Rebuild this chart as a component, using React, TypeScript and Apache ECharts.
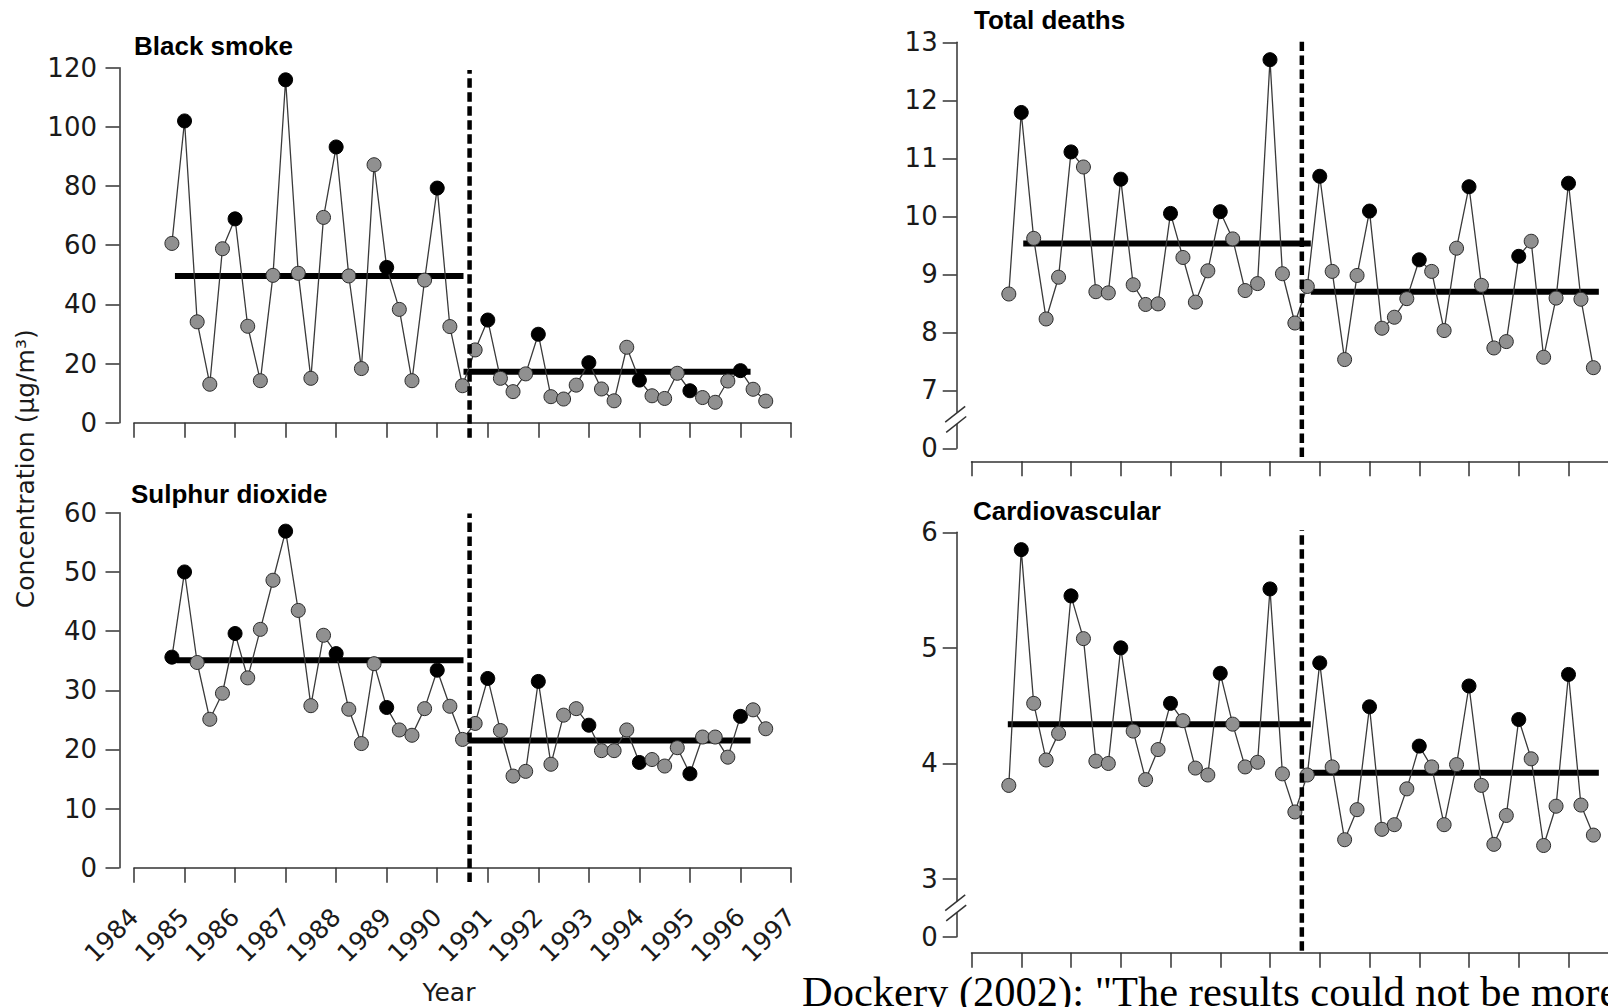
import React, { useEffect, useRef } from "react";
import * as echarts from "echarts";

// ---- Data -------------------------------------------------------------
const quarters = [
  "Autumn 1984",
  "Winter 1985", "Spring 1985", "Summer 1985", "Autumn 1985",
  "Winter 1986", "Spring 1986", "Summer 1986", "Autumn 1986",
  "Winter 1987", "Spring 1987", "Summer 1987", "Autumn 1987",
  "Winter 1988", "Spring 1988", "Summer 1988", "Autumn 1988",
  "Winter 1989", "Spring 1989", "Summer 1989", "Autumn 1989",
  "Winter 1990", "Spring 1990", "Summer 1990", "Autumn 1990",
  "Winter 1991", "Spring 1991", "Summer 1991", "Autumn 1991",
  "Winter 1992", "Spring 1992", "Summer 1992", "Autumn 1992",
  "Winter 1993", "Spring 1993", "Summer 1993", "Autumn 1993",
  "Winter 1994", "Spring 1994", "Summer 1994", "Autumn 1994",
  "Winter 1995", "Spring 1995", "Summer 1995", "Autumn 1995",
  "Winter 1996", "Spring 1996", "Summer 1996",
];
const seasonOffset: Record<string, number> = { Winter: 0, Spring: 0.25, Summer: 0.5, Autumn: 0.75 };

const yearRange = [1984, 1997];
const banDate = 1990.64;

const blackSmoke = [60.6, 102, 34.1, 13, 58.8, 68.9, 32.6, 14.2, 49.8, 115.9, 50.5, 15, 69.4, 93.2, 49.6, 18.3,
  87.2, 52.5, 38.3, 14.2, 48.2, 79.3, 32.5, 12.5, 24.6, 34.7, 15, 10.5, 16.5, 29.9, 8.8, 8, 12.7, 20.3, 11.4, 7.4,
  25.5, 14.4, 9.1, 8.2, 16.7, 10.8, 8.5, 6.9, 14.1, 17.6, 11.3, 7.3];
const sulphurDioxide = [35.6, 50.0, 34.7, 25.1, 29.5, 39.6, 32.1, 40.3, 48.6, 56.9, 43.5, 27.4, 39.3, 36.2, 26.8,
  21.0, 34.5, 27.1, 23.3, 22.4, 26.9, 33.4, 27.3, 21.7, 24.4, 32.0, 23.2, 15.5, 16.3, 31.5, 17.5, 25.8, 26.9, 24.1,
  19.8, 19.8, 23.3, 17.8, 18.3, 17.2, 20.3, 15.9, 22.1, 22.1, 18.7, 25.6, 26.7, 23.5];
const totalDeaths = [8.66, 11.79, 9.62, 8.23, 8.95, 11.11, 10.85, 8.70, 8.68, 10.64, 8.82, 8.48, 8.49, 10.05, 9.29,
  8.52, 9.06, 10.08, 9.61, 8.72, 8.84, 12.70, 9.01, 8.16, 8.79, 10.69, 9.05, 7.53, 8.98, 10.09, 8.07, 8.26, 8.58,
  9.25, 9.05, 8.03, 9.45, 10.51, 8.81, 7.73, 7.84, 9.31, 9.57, 7.57, 8.59, 10.57, 8.57, 7.39];
const cardiovascular = [3.81, 5.85, 4.52, 4.03, 4.26, 5.45, 5.08, 4.02, 4.00, 5.00, 4.28, 3.86, 4.12, 4.52, 4.37,
  3.96, 3.90, 4.78, 4.34, 3.97, 4.01, 5.51, 3.91, 3.58, 3.90, 4.87, 3.97, 3.34, 3.60, 4.49, 3.43, 3.47, 3.78, 4.15,
  3.97, 3.47, 3.99, 4.67, 3.81, 3.30, 3.55, 4.38, 4.04, 3.29, 3.63, 4.77, 3.64, 3.38];

// indices of the points drawn in black
const blackSmokeDark = [1, 5, 9, 13, 17, 21, 25, 29, 33, 37, 41, 45];
const sulphurDioxideDark = [0, 1, 5, 9, 13, 17, 21, 25, 29, 33, 37, 41, 45];
const totalDeathsDark = [1, 5, 9, 13, 17, 21, 25, 29, 33, 37, 41, 45];
const cardiovascularDark = [1, 5, 9, 13, 17, 21, 25, 29, 33, 37, 41, 45];

// means before / after the ban, with the span each mean line covers (years)
const blackSmokeMeans = [49.6, 17.2];
const blackSmokeSpans = [[1984.81, 1990.52], [1990.52, 1996.2]];
const sulphurDioxideMeans = [35.1, 21.5];
const sulphurDioxideSpans = [[1984.84, 1990.52], [1990.52, 1996.2]];
const totalDeathsMeans = [9.53, 8.7];
const totalDeathsSpans = [[1985.04, 1990.82], [1990.82, 1996.61]];
const cardiovascularMeans = [4.34, 3.92];
const cardiovascularSpans = [[1984.73, 1990.82], [1990.82, 1996.61]];

// vertical extent of the ban line (axis values)
const blackSmokeBan = [-5.1, 119.2];
const sulphurDioxideBan = [-2.4, 59.9];
const totalDeathsBan = [5.85, 13.01];
const cardiovascularBan = [2.38, 6.02];

// ---- Layout ---------------------------------------------------------------
const LABEL_FONT = "DejaVu Sans";
const INK = "#1a1a1a";

type Panel = {
  title: string;
  values: number[];
  dark: number[];
  means: number[];
  spans: number[][];
  ban: number[];
  yMin: number; yMax: number; yStep: number;
  yTicks?: number[];
  zeroAt?: number;
  rect: number[];
  xOff: number; yOff: number; labelMargin: number;
  showYears: boolean;
  titleAt: number[];
};

const panels: Panel[] = [
  { title: "Black smoke", values: blackSmoke, dark: blackSmokeDark, means: blackSmokeMeans, spans: blackSmokeSpans,
    ban: blackSmokeBan, yMin: 0, yMax: 120, yStep: 20, rect: [134, 67.7, 657, 355], xOff: 15, yOff: 14.5,
    labelMargin: 22.5, showYears: false, titleAt: [134, 45.5] },
  { title: "Sulphur dioxide", values: sulphurDioxide, dark: sulphurDioxideDark, means: sulphurDioxideMeans,
    spans: sulphurDioxideSpans, ban: sulphurDioxideBan, yMin: 0, yMax: 60, yStep: 10, rect: [134, 512.8, 657, 355],
    xOff: 14, yOff: 14.5, labelMargin: 22.5, showYears: true, titleAt: [131, 494] },
  { title: "Total deaths", values: totalDeaths, dark: totalDeathsDark, means: totalDeathsMeans, spans: totalDeathsSpans,
    ban: totalDeathsBan, yMin: 6, yMax: 13, yStep: 1, zeroAt: 6, rect: [971.5, 42.3, 646.75, 406], xOff: 13,
    yOff: 14.8, labelMargin: 19, showYears: false, titleAt: [974, 20] },
  { title: "Cardiovascular", values: cardiovascular, dark: cardiovascularDark, means: cardiovascularMeans,
    spans: cardiovascularSpans, ban: cardiovascularBan, yMin: 2.5, yMax: 6, yStep: 0.5, yTicks: [2.5, 3, 4, 5, 6],
    zeroAt: 2.5, rect: [971.5, 532.3, 646.75, 404.5], xOff: 16, yOff: 14.8, labelMargin: 19, showYears: false,
    titleAt: [973, 511] },
];

function quarterToYear(q: string): number {
  const [season, year] = q.split(" ");
  return Number(year) + seasonOffset[season];
}

export default function App() {
  const ref = useRef<HTMLDivElement>(null);

  useEffect(() => {
    document.body.style.margin = "0";
    const el = ref.current!;
    const chart = echarts.init(el, null, { renderer: "svg", width: 1640, height: 1007 });
    const quarterX = quarters.map(quarterToYear);

    const grids: any[] = [];
    const xAxes: any[] = [];
    const yAxes: any[] = [];
    const series: any[] = [];

    panels.forEach((p, i) => {
      grids.push({ left: p.rect[0], top: p.rect[1], width: p.rect[2], height: p.rect[3] });
      xAxes.push({
        gridIndex: i, type: "value", min: yearRange[0], max: yearRange[1], interval: 1, offset: p.xOff,
        axisLine: { show: true, lineStyle: { color: "#333", width: 1.5 } },
        axisTick: { show: true, length: 15, lineStyle: { color: "#333", width: 1.5 } },
        axisLabel: {
          show: p.showYears, rotate: 45, margin: 31, fontFamily: LABEL_FONT, fontSize: 25, color: INK,
          formatter: (v: number) => String(v),
        },
        splitLine: { show: false },
      });
      const yLabelFormatter = (v: number) => (p.zeroAt !== undefined && Math.abs(v - p.zeroAt) < 1e-9 ? "0" : String(v));
      const yAxis: any = {
        gridIndex: i, type: "value", min: p.yMin, max: p.yMax, interval: p.yStep, offset: p.yOff,
        axisLine: { show: true, lineStyle: { color: "#333", width: 1.5 } },
        axisTick: { show: true, length: 14, lineStyle: { color: "#333", width: 1.5 } },
        axisLabel: { margin: p.labelMargin, fontFamily: LABEL_FONT, fontSize: 26, color: INK, formatter: yLabelFormatter },
        splitLine: { show: false },
      };
      if (p.yTicks) {
        yAxis.axisTick.customValues = p.yTicks;
        yAxis.axisLabel.customValues = p.yTicks;
      }
      yAxes.push(yAxis);

      series.push({
        type: "line", xAxisIndex: i, yAxisIndex: i, z: 3,
        symbol: "circle", symbolSize: 14,
        lineStyle: { color: "#3a3a3a", width: 1.3 },
        itemStyle: { color: "#909090", borderColor: "#2a2a2a", borderWidth: 1 },
        data: p.values.map((v, k) => ({
          value: [quarterX[k], v],
          itemStyle: p.dark.includes(k) ? { color: "#000", borderColor: "#000" } : undefined,
        })),
      });
      p.means.forEach((m, j) => {
        series.push({
          type: "line", xAxisIndex: i, yAxisIndex: i, z: 2, symbol: "none",
          lineStyle: { color: "#000", width: 6, cap: "butt" },
          data: [[p.spans[j][0], m], [p.spans[j][1], m]],
        });
      });
      series.push({
        type: "line", xAxisIndex: i, yAxisIndex: i, z: 5, symbol: "none", clip: false,
        lineStyle: { color: "#000", width: 4.5, type: [9.5, 4.5], cap: "butt" },
        data: [[banDate, p.ban[0]], [banDate, p.ban[1]]],
      });
    });

    chart.setOption({
      animation: false,
      backgroundColor: "#fff",
      grid: grids,
      xAxis: xAxes,
      yAxis: yAxes,
      series,
    });

    const graphics: any[] = [];
    panels.forEach((p, i) => {
      graphics.push({
        type: "text", x: p.titleAt[0], y: p.titleAt[1], z: 50,
        style: { text: p.title, font: 'bold 26px "Liberation Sans"', fill: "#000", textAlign: "left", textVerticalAlign: "middle" },
      });
      if (p.zeroAt !== undefined) {
        const firstTick = p.yTicks ? p.yTicks[1] : p.zeroAt + p.yStep;
        const breakVal = (p.zeroAt + firstTick) / 2;
        const pt = chart.convertToPixel({ gridIndex: i }, [yearRange[0], breakVal]) as number[];
        const ax = pt[0] - p.yOff;
        const yc = pt[1];
        graphics.push({ type: "rect", z: 60, shape: { x: ax - 4, y: yc - 6.5, width: 8, height: 11 }, style: { fill: "#fff" } });
        graphics.push({ type: "line", z: 61, shape: { x1: ax - 11.5, y1: yc + 2.8, x2: ax + 8.5, y2: yc - 13 }, style: { stroke: "#333", lineWidth: 1.5 } });
        graphics.push({ type: "line", z: 61, shape: { x1: ax - 10.5, y1: yc + 13, x2: ax + 9.5, y2: yc - 2.8 }, style: { stroke: "#333", lineWidth: 1.5 } });
      }
    });
    graphics.push({
      type: "text", x: 25.6, y: 468.7, rotation: Math.PI / 2, z: 50,
      style: { text: "Concentration (µg/m³)", font: `25px "${LABEL_FONT}"`, fill: INK, textAlign: "center", textVerticalAlign: "middle" },
    });
    graphics.push({
      type: "text", x: 449, y: 992, z: 50,
      style: { text: "Year", font: `25px "${LABEL_FONT}"`, fill: INK, textAlign: "center", textVerticalAlign: "middle" },
    });
    graphics.push({
      type: "text", x: 802, y: 991, z: 50,
      style: { text: 'Dockery (2002): "The results could not be more', font: '42.5px "Liberation Serif"', fill: "#000", textAlign: "left", textVerticalAlign: "middle" },
    });
    chart.setOption({ graphic: graphics });

    return () => chart.dispose();
  }, []);

  return (
    <div style={{ position: "fixed", left: 0, top: 0, width: 1608, height: 1007, overflow: "hidden", background: "#fff" }}>
      <div ref={ref} style={{ width: 1640, height: 1007 }} />
    </div>
  );
}
